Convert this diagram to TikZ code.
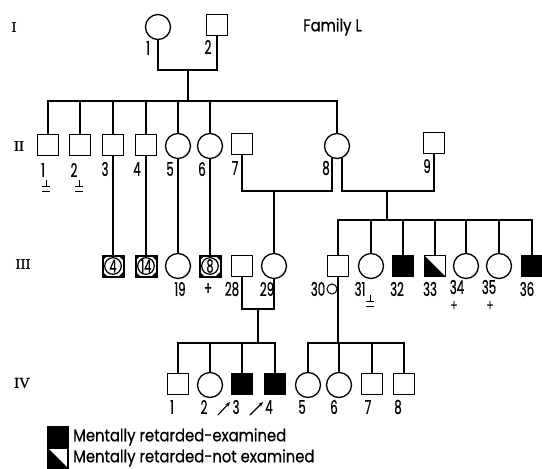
\documentclass[tikz,border=0pt]{standalone}
\usepackage{fontspec}
\newfontfamily\labfont[FakeStretch=0.87,FakeBold=0.6]{Poppins}
\newfontfamily\numfont[FakeStretch=0.62,FakeBold=0.6]{Poppins}
\newfontfamily\genfont[FakeBold=0.8]{Liberation Serif}
\usetikzlibrary{arrows.meta}
\tikzset{
  person/.style={draw, line width=1.3pt, inner sep=0pt},
  mal/.style={person, rectangle, minimum size=21pt},
  fem/.style={person, circle, minimum size=25pt},
  aff/.style={fill=black},
  half/.style={path picture={\fill (path picture bounding box.north west) -- (path picture bounding box.south west) -- (path picture bounding box.south east) -- cycle;}},
  multi/.style={mal, line width=2pt, font=\numfont\fontsize{18}{18}\selectfont,
    path picture={
      \fill (path picture bounding box.north west) -- ++(5pt,0pt) -- ++(-5pt,-5pt) -- cycle;
      \fill (path picture bounding box.north east) -- ++(-5pt,0pt) -- ++(5pt,-5pt) -- cycle;
      \fill (path picture bounding box.south west) -- ++(5pt,0pt) -- ++(-5pt,5pt) -- cycle;
      \fill (path picture bounding box.south east) -- ++(-5pt,0pt) -- ++(5pt,5pt) -- cycle;
      \draw[line width=1.2pt] (path picture bounding box.center) circle (8.3pt);}},
  num/.style={font=\numfont\fontsize{19}{19}\selectfont, inner sep=0pt},
  plus/.style={font=\numfont\fontsize{16}{16}\selectfont, inner sep=0pt},
  gen/.style={font=\genfont\fontsize{15}{15}\selectfont, inner sep=0pt},
  txt/.style={font=\labfont\fontsize{17}{17}\selectfont, anchor=west, inner sep=0pt},
  link/.style={line width=1.3pt},
  proband/.style={line width=1.1pt, -{Stealth[length=5pt,width=4pt]}},
  infant/.pic={
    \draw[line width=1pt] (0,0) -- (0,6);
    \draw[line width=1pt] (-4,6) -- (4,6);
    \draw[line width=1pt] (-4,11) -- (4,11);}
}
\begin{document}
\begin{tikzpicture}[x=1pt,y=-1pt]
\useasboundingbox (0,0) rectangle (542,469);

% generation labels
\node[gen] (gI) at (14,27) {I};
\node[gen] (gII) at (19,146) {II};
\node[gen] (gIII) at (23,264) {III};
\node[gen] (gIV) at (22,383) {IV};
\node[txt] (fam) at (303,27) {Family L};

% generation I
\node[fem] (I1) at (158,27) {};
\node[mal] (I2) at (217,25) {};
\node[num] (lI1) at (148,48) {1};
\node[num] (lI2) at (208,47) {2};
\coordinate (m12) at (188,70);
\coordinate (s1) at (188,101);
\draw[link] (I1.south) |- (m12) -| (I2.south);
\draw[link] (m12) -- (s1);

% generation II
\node[mal] (II1) at (48,145) {};
\node[mal] (II2) at (80,145) {};
\node[mal] (II3) at (113,145) {};
\node[mal] (II4) at (146,145) {};
\node[fem] (II5) at (178,146) {};
\node[fem] (II6) at (210,146) {};
\node[mal] (II7) at (242,144) {};
\node[fem] (II8) at (337,146) {};
\node[mal] (II9) at (434,143) {};
\foreach \c in {II1,II2,II3,II4,II5,II6,II8} \draw[link] (s1) -| (\c.north);
\node[num] (lII1) at (43,170) {1};
\node[num] (lII2) at (74,170) {2};
\node[num] (lII3) at (105,169) {3};
\node[num] (lII4) at (137,169) {4};
\node[num] (lII5) at (170,169) {5};
\node[num] (lII6) at (202,169) {6};
\node[num] (lII7) at (235,168) {7};
\node[num] (lII8) at (326,168) {8};
\node[num] (lII9) at (427,166) {9};
\pic at (46,180) {infant};
\pic at (79,180) {infant};

\coordinate (m78) at (274,191);
\coordinate (m89) at (387,191);
\coordinate (s3) at (387,220);
\draw[link] (II7.south) |- (m78) -| (II8.-112);
\draw[link] (II8.-68) |- (m89) -| (II9.south);
\draw[link] (m89) -- (s3);

% generation III
\node[multi] (B4) at (113,266) {4};
\node[multi] (B14) at (146,266) {14};
\node[fem] (III19) at (178,266) {};
\node[multi] (B8) at (210,266) {8};
\node[mal] (III28) at (242,266) {};
\node[fem] (III29) at (274,266) {};
\node[mal] (III30) at (338,266) {};
\node[fem] (III31) at (371,266) {};
\node[mal,aff] (III32) at (403,266) {};
\node[mal,half] (III33) at (435,266) {};
\node[fem] (III34) at (466,266) {};
\node[fem] (III35) at (499,266) {};
\node[mal,aff] (III36) at (532,266) {};

\draw[link] (II3.south) -- (B4.north);
\draw[link] (II4.south) -- (B14.north);
\draw[link] (II5.south) -- (III19.north);
\draw[link] (II6.south) -- (B8.north);
\draw[link] (m78) -- (III29.north);
\foreach \c in {III30,III31,III32,III33,III34,III35,III36} \draw[link] (s3) -| (\c.north);

\node[num] (lIII19) at (180,289) {19};
\node[num] (plus28) at (208,289) {+};
\node[num] (lIII28) at (232,289) {28};
\node[num] (lIII29) at (267,289) {29};
\node[num] (lIII30) at (318,289) {30};
\node[circle, draw, line width=1pt, minimum size=10pt, inner sep=0pt] (c30) at (332,289) {};
\node[num] (lIII31) at (360,289) {31};
\pic at (370,295) {infant};
\node[num] (lIII32) at (397,289) {32};
\node[num] (lIII33) at (430,289) {33};
\node[num] (lIII34) at (457,287) {34};
\node[plus] (p34) at (454,306) {+};
\node[num] (lIII35) at (489,287) {35};
\node[plus] (p35) at (490,306) {+};
\node[num] (lIII36) at (527,289) {36};

\coordinate (m2829) at (258,309);
\coordinate (s4) at (258,343);
\coordinate (s5) at (338,343);
\draw[link] (III28.south) |- (m2829) -| (III29.south);
\draw[link] (m2829) -- (s4);
\draw[link] (III30.south) -- (s5);

% generation IV
\node[mal] (IV1) at (178,384) {};
\node[fem] (IV2) at (210,385) {};
\node[mal,aff] (IV3) at (242,384) {};
\node[mal,aff] (IV4) at (275,384) {};
\node[fem] (IV5) at (308,385) {};
\node[fem] (IV6) at (339,385) {};
\node[mal] (IV7) at (372,384) {};
\node[mal] (IV8) at (404,384) {};
\foreach \c in {IV1,IV2,IV3,IV4} \draw[link] (s4) -| (\c.north);
\foreach \c in {IV5,IV6,IV7,IV8} \draw[link] (s5) -| (\c.north);

\node[num] (lIV1) at (172,407) {1};
\node[num] (lIV2) at (204,407) {2};
\node[num] (lIV3) at (236,407) {3};
\node[num] (lIV4) at (269,407) {4};
\node[num] (lIV5) at (302,407) {5};
\node[num] (lIV6) at (334,407) {6};
\node[num] (lIV7) at (368,407) {7};
\node[num] (lIV8) at (398,407) {8};
\coordinate (a3s) at (218,415);
\coordinate (a3e) at (230,402);
\coordinate (a4s) at (250,415);
\coordinate (a4e) at (263,402);
\draw[proband] (a3s) -- (a3e);
\draw[proband] (a4s) -- (a4e);

% legend
\node[mal,aff,minimum size=20pt] (key1) at (58,437) {};
\node[mal,half,minimum size=20pt] (key2) at (58,458) {};
\node[txt] (t1) at (73,437) {Mentally retarded-examined};
\node[txt] (t2) at (73,458) {Mentally retarded-not examined};
\end{tikzpicture}
\end{document}
